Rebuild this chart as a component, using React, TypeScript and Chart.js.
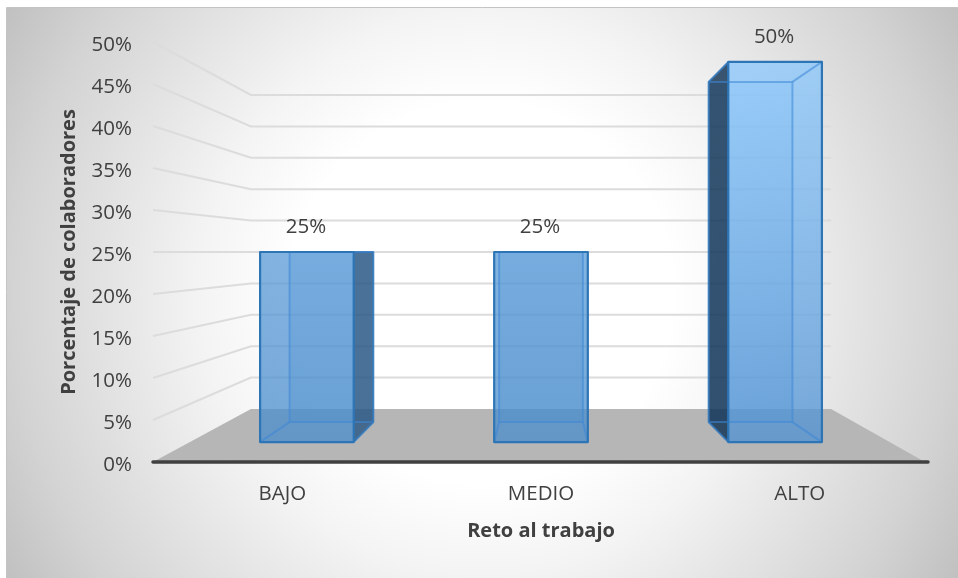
import { useEffect, useRef } from "react";
import { Chart, registerables } from "chart.js";

Chart.register(...registerables);

// Chart data
const categories = ["BAJO", "MEDIO", "ALTO"];
const percentages = [25, 25, 50];
const xAxisTitle = "Reto al trabajo";
const yAxisTitle = "Porcentaje de colaboradores";

// Perspective factors: 1 is the axis plane, smaller values recede toward the vanishing point.
const WALL_DEPTH = 0.7476;
const BAR_FRONT_DEPTH = 0.905;
const BAR_BACK_DEPTH = 0.81;
const VANISH_VALUE = 25;

// Face gradients per bar, top colour then bottom colour.
const faceGradients = [
  ["rgb(89,154,215)", "rgb(73,140,203)"],
  ["rgb(89,154,215)", "rgb(73,140,203)"],
  ["rgb(136,198,252)", "rgb(77,144,210)"],
];
const sideColors = ["rgb(41,86,130)", "rgb(41,86,130)", "rgb(12,46,80)"];

const FONT = "'Open Sans', sans-serif";
const TEXT = "#404040";

type Pt = [number, number];

function poly(ctx: CanvasRenderingContext2D, pts: Pt[], close = true) {
  ctx.beginPath();
  pts.forEach((p, i) => (i ? ctx.lineTo(p[0], p[1]) : ctx.moveTo(p[0], p[1])));
  if (close) ctx.closePath();
}

// Radial page backdrop with a thin rule along the top and left edges.
const backdrop = {
  id: "backdrop",
  beforeDraw(chart: any) {
    const { ctx, width, height } = chart;
    ctx.save();
    const g = ctx.createRadialGradient(482, 293, 0, 482, 293, 560);
    g.addColorStop(0, "#ffffff");
    g.addColorStop(0.34, "#ffffff");
    g.addColorStop(0.5, "#f4f4f4");
    g.addColorStop(0.84, "#d3d3d3");
    g.addColorStop(1, "#bfbfbf");
    ctx.fillStyle = g;
    ctx.fillRect(7, 8, width - 7, height - 8);
    ctx.strokeStyle = "#c4c4c4";
    ctx.lineWidth = 1;
    poly(ctx, [[6.5, height], [6.5, 7.5], [width, 7.5]], false);
    ctx.stroke();
    ctx.restore();
  },
};

// Floor, walls and bars in perspective, all positioned through the chart's scales.
const perspective = {
  id: "perspective",
  beforeDatasetDraw() {
    return false;
  },
  beforeDatasetsDraw(chart: any) {
    const { ctx, scales } = chart;
    const { x: xs, y: ys } = scales;
    const vx = (xs.left + xs.right) / 2;
    const vy = ys.getPixelForValue(VANISH_VALUE);
    const proj = (x: number, y: number, s: number): Pt => [vx + (x - vx) * s, vy + (y - vy) * s];
    const y0 = ys.getPixelForValue(0);

    ctx.save();
    ctx.fillStyle = "#b6b6b6";
    poly(ctx, [[xs.left, y0], proj(xs.left, y0, WALL_DEPTH), proj(xs.right, y0, WALL_DEPTH), [xs.right - 4, y0]]);
    ctx.fill();

    ctx.strokeStyle = "#dcdcdc";
    ctx.lineWidth = 2;
    ys.ticks.forEach((t: any) => {
      if (t.value === 0) return;
      const y = ys.getPixelForValue(t.value);
      poly(ctx, [[xs.left, y], proj(xs.left, y, WALL_DEPTH), proj(xs.right, y, WALL_DEPTH)], false);
      ctx.stroke();
    });

    ctx.strokeStyle = TEXT;
    ctx.lineWidth = 3.5;
    ctx.lineCap = "round";
    poly(ctx, [[xs.left, y0], [xs.right - 1, y0]], false);
    ctx.stroke();
    ctx.restore();
  },
  afterDatasetsDraw(chart: any) {
    const { ctx, scales } = chart;
    const { x: xs, y: ys } = scales;
    const vx = (xs.left + xs.right) / 2;
    const vy = ys.getPixelForValue(VANISH_VALUE);
    const proj = (x: number, y: number, s: number): Pt => [vx + (x - vx) * s, vy + (y - vy) * s];
    const dataset = chart.data.datasets[0];

    chart.getDatasetMeta(0).data.forEach((bar: any, i: number) => {
      const { x, y, base, width } = bar.getProps(["x", "y", "base", "width"], true);
      const l = x - width / 2;
      const r = x + width / 2;
      const corners = (s: number) => ({
        tl: proj(l, y, s),
        tr: proj(r, y, s),
        br: proj(r, base, s),
        bl: proj(l, base, s),
      });
      const f = corners(BAR_FRONT_DEPTH);
      const b = corners(BAR_BACK_DEPTH);

      const grad = ctx.createLinearGradient(0, f.tl[1], 0, f.bl[1]);
      grad.addColorStop(0, faceGradients[i][0]);
      grad.addColorStop(1, faceGradients[i][1]);
      const rect = (c: typeof f): Pt[] => [c.tl, c.tr, c.br, c.bl];

      ctx.save();
      ctx.lineJoin = "round";
      ctx.fillStyle = grad;

      // Rear panel and floor of the box
      ctx.globalAlpha = 0.3;
      poly(ctx, rect(b));
      ctx.fill();
      ctx.globalAlpha = 1;

      // A side panel that sticks out past the front face reads as the dark one
      const dark: Pt[][] = [];
      if (b.tr[0] > f.tr[0] + 1) dark.push([f.tr, b.tr, b.br, f.br]);
      if (b.tl[0] < f.tl[0] - 1) dark.push([f.tl, b.tl, b.bl, f.bl]);
      ctx.fillStyle = sideColors[i];
      ctx.globalAlpha = 0.8;
      dark.forEach((q) => {
        poly(ctx, q);
        ctx.fill();
      });
      ctx.globalAlpha = 1;

      // Front panel
      ctx.globalAlpha = 0.75;
      ctx.fillStyle = grad;
      poly(ctx, rect(f));
      ctx.fill();
      ctx.globalAlpha = 1;

      // Hidden edges showing through the panels
      ctx.strokeStyle = "rgba(60,135,215,0.55)";
      ctx.lineWidth = 2;
      poly(ctx, rect(b));
      ctx.stroke();
      (["tl", "tr", "br", "bl"] as const).forEach((k) => {
        poly(ctx, [f[k], b[k]], false);
        ctx.stroke();
      });

      ctx.strokeStyle = "rgba(46,117,182,0.7)";
      ctx.lineWidth = 1.5;
      dark.forEach((q) => {
        poly(ctx, q);
        ctx.stroke();
      });

      ctx.strokeStyle = dataset.borderColor;
      ctx.lineWidth = 2.2;
      poly(ctx, rect(f));
      ctx.stroke();

      // Value label above the front face
      ctx.fillStyle = TEXT;
      ctx.font = `20.5px ${FONT}`;
      ctx.textAlign = "center";
      ctx.textBaseline = "middle";
      ctx.fillText(`${percentages[i]}%`, (f.tl[0] + f.tr[0]) / 2 - 1, f.tl[1] - 25);
      ctx.restore();
    });
  },
};

export default function App() {
  const ref = useRef<HTMLCanvasElement>(null);

  useEffect(() => {
    const chart = new Chart(ref.current as HTMLCanvasElement, {
      type: "bar",
      data: {
        labels: categories,
        datasets: [
          {
            label: yAxisTitle,
            data: percentages,
            backgroundColor: "#5b9bd5",
            borderColor: "#2e75b6",
            barPercentage: 0.4,
            categoryPercentage: 1,
          },
        ],
      },
      plugins: [backdrop, perspective],
      options: {
        responsive: false,
        animation: false,
        layout: { padding: { left: 57, right: 29, top: 42, bottom: 35 } },
        plugins: { legend: { display: false }, tooltip: { enabled: false } },
        scales: {
          x: {
            grid: { display: false, drawTicks: false },
            border: { display: false },
            ticks: {
              color: TEXT,
              font: { family: FONT, size: 20.5 },
              padding: 20,
              maxRotation: 0,
              autoSkip: false,
            },
            title: {
              display: true,
              text: xAxisTitle,
              color: TEXT,
              font: { family: FONT, size: 20, weight: "bold" },
              padding: 0,
            },
            afterFit(s: any) {
              s.height = 81;
              s.paddingLeft = 0;
              s.paddingRight = 0;
            },
          },
          y: {
            min: 0,
            max: 50,
            grid: { display: false, drawTicks: false },
            border: { display: false },
            ticks: {
              stepSize: 5,
              color: TEXT,
              font: { family: FONT, size: 20.5 },
              padding: 21,
              labelOffset: 3,
              callback: (v: any) => `${v}%`,
            },
            title: {
              display: true,
              text: yAxisTitle,
              color: TEXT,
              font: { family: FONT, size: 20, weight: "bold" },
              padding: 0,
            },
            afterFit(s: any) {
              s.width = 96;
              s.paddingTop = 0;
              s.paddingBottom = 0;
            },
          },
        },
      },
    } as any);
    return () => chart.destroy();
  }, []);

  return (
    <canvas
      ref={ref}
      width={958}
      height={578}
      style={{ position: "absolute", left: 0, top: 0, display: "block" }}
    />
  );
}
